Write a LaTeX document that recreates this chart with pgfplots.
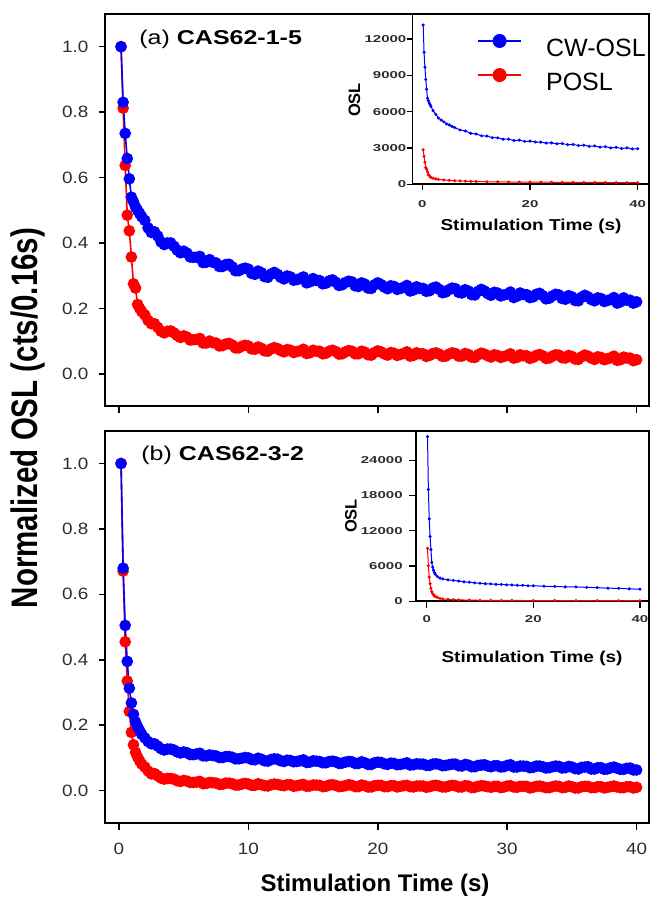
\documentclass[border=0pt]{standalone}
\usepackage{fontspec}
\setmainfont{Liberation Sans}
\newfontfamily\tickfont{Liberation Sans}[FakeStretch=1.15]
\newfontfamily\itickfont{Liberation Sans}[FakeStretch=1.5]
\newfontfamily\titlefont{Liberation Sans}[FakeStretch=1.25]
\newfontfamily\ilabfont{Liberation Sans}[FakeStretch=1.2]
\usepackage{pgfplots}
\pgfplotsset{compat=1.18}
\usepackage{pgfplotstable}
\definecolor{cwblue}{RGB}{0,0,255}
\definecolor{poslred}{RGB}{255,0,0}
\definecolor{tickgray}{RGB}{45,45,45}

\pgfplotstableread{
t y
0.16 1.000
0.32 0.830
0.48 0.735
0.64 0.658
0.80 0.596
0.96 0.540
1.12 0.526
1.28 0.510
1.44 0.500
1.60 0.490
1.76 0.480
2.0 .469
2.25 .446
2.5 .432
2.75 .434
3.0 .421
3.25 .403
3.5 .395
3.75 .400
4.0 .400
4.25 .390
4.5 .378
4.75 .370
5.0 .375
5.25 .369
5.5 .357
5.75 .356
6.0 .356
6.25 .359
6.5 .340
6.75 .341
7.0 .349
7.25 .341
7.5 .339
7.75 .328
8.0 .328
8.25 .334
8.5 .335
8.75 .327
9.0 .315
9.25 .315
9.5 .320
9.75 .323
10.0 .320
10.25 .307
10.5 .304
10.75 .314
11.0 .309
11.25 .297
11.5 .295
11.75 .305
12.0 .310
12.25 .304
12.5 .295
12.75 .290
13.0 .299
13.25 .296
13.5 .286
13.75 .288
14.0 .291
14.25 .296
14.5 .278
14.75 .281
15.0 .291
15.25 .285
15.5 .285
15.75 .275
16.0 .277
16.25 .284
16.5 .287
16.75 .280
17.0 .270
17.25 .272
17.5 .279
17.75 .283
18.0 .281
18.25 .269
18.5 .267
18.75 .278
19.0 .274
19.25 .262
19.5 .261
19.75 .272
20.0 .278
20.25 .273
20.5 .265
20.75 .260
21.0 .269
21.25 .267
21.5 .258
21.75 .261
22.0 .264
22.25 .270
22.5 .253
22.75 .256
23.0 .266
23.25 .261
23.5 .261
23.75 .252
24.0 .254
24.25 .262
24.5 .265
24.75 .258
25.0 .248
25.25 .250
25.5 .257
25.75 .262
26.0 .260
26.25 .249
26.5 .247
26.75 .257
27.0 .253
27.25 .242
27.5 .241
27.75 .252
28.0 .258
28.25 .253
28.5 .245
28.75 .240
29.0 .249
29.25 .247
29.5 .238
29.75 .241
30.0 .244
30.25 .250
30.5 .233
30.75 .237
31.0 .247
31.25 .242
31.5 .242
31.75 .233
32.0 .235
32.25 .243
32.5 .246
32.75 .239
33.0 .229
33.25 .231
33.5 .238
33.75 .243
34.0 .241
34.25 .230
34.5 .228
34.75 .239
35.0 .235
35.25 .224
35.5 .223
35.75 .234
36.0 .240
36.25 .235
36.5 .227
36.75 .223
37.0 .232
37.25 .230
37.5 .221
37.75 .224
38.0 .227
38.25 .233
38.5 .216
38.75 .220
39.0 .232
39.25 .225
39.5 .225
39.75 .216
40.0 .220
}\blueA

\pgfplotstableread{
t y
0.16 1.000
0.32 0.812
0.48 0.637
0.64 0.485
0.80 0.437
0.96 0.357
1.12 0.275
1.28 0.262
1.44 0.212
1.60 0.200
1.76 0.190
2.0 .180
2.25 .163
2.5 .153
2.75 .153
3.0 .142
3.25 .130
3.5 .125
3.75 .130
4.0 .131
4.25 .125
4.5 .117
4.75 .111
5.0 .116
5.25 .112
5.5 .103
5.75 .104
6.0 .105
6.25 .108
6.5 .094
6.75 .094
7.0 .100
7.25 .095
7.5 .094
7.75 .085
8.0 .086
8.25 .091
8.5 .093
8.75 .088
9.0 .079
9.25 .079
9.5 .084
9.75 .087
10.0 .085
10.25 .076
10.5 .075
10.75 .082
11.0 .078
11.25 .070
11.5 .069
11.75 .076
12.0 .080
12.25 .077
12.5 .071
12.75 .067
13.0 .074
13.25 .072
13.5 .065
13.75 .068
14.0 .070
14.25 .075
14.5 .062
14.75 .064
15.0 .072
15.25 .069
15.5 .069
15.75 .061
16.0 .063
16.25 .069
16.5 .072
16.75 .068
17.0 .060
17.25 .061
17.5 .067
17.75 .071
18.0 .069
18.25 .061
18.5 .061
18.75 .069
19.0 .066
19.25 .058
19.5 .057
19.75 .065
20.0 .070
20.25 .067
20.5 .061
20.75 .057
21.0 .065
21.25 .063
21.5 .056
21.75 .059
22.0 .062
22.25 .067
22.5 .054
22.75 .056
23.0 .064
23.25 .061
23.5 .061
23.75 .053
24.0 .056
24.25 .062
24.5 .064
24.75 .060
25.0 .053
25.25 .054
25.5 .060
25.75 .064
26.0 .062
26.25 .054
26.5 .054
26.75 .062
27.0 .059
27.25 .051
27.5 .050
27.75 .058
28.0 .063
28.25 .060
28.5 .055
28.75 .051
29.0 .058
29.25 .056
29.5 .050
29.75 .053
30.0 .056
30.25 .061
30.5 .048
30.75 .050
31.0 .058
31.25 .055
31.5 .055
31.75 .047
32.0 .050
32.25 .056
32.5 .059
32.75 .055
33.0 .047
33.25 .048
33.5 .054
33.75 .058
34.0 .057
34.25 .049
34.5 .048
34.75 .056
35.0 .053
35.25 .045
35.5 .044
35.75 .052
36.0 .057
36.25 .054
36.5 .048
36.75 .044
37.0 .052
37.25 .050
37.5 .043
37.75 .046
38.0 .049
38.25 .054
38.5 .041
38.75 .043
39.0 .051
39.25 .048
39.5 .048
39.75 .040
40.0 .043
}\redA

\pgfplotstableread{
t y
0.16 1.000
0.32 0.680
0.48 0.505
0.64 0.395
0.80 0.313
0.96 0.268
1.12 0.233
1.28 0.210
1.44 0.195
1.60 0.183
1.76 0.172
2.0 .161
2.25 .150
2.5 .143
2.75 .143
3.0 .136
3.25 .128
3.5 .124
3.75 .127
4.0 .127
4.25 .124
4.5 .118
4.75 .115
5.0 .118
5.25 .116
5.5 .110
5.75 .110
6.0 .112
6.25 .114
6.5 .106
6.75 .106
7.0 .109
7.25 .107
7.5 .106
7.75 .101
8.0 .101
8.25 .104
8.5 .104
8.75 .102
9.0 .097
9.25 .097
9.5 .099
9.75 .101
10.0 .100
10.25 .095
10.5 .094
10.75 .099
11.0 .096
11.25 .091
11.5 .090
11.75 .095
12.0 .097
12.25 .096
12.5 .091
12.75 .089
13.0 .093
13.25 .092
13.5 .088
13.75 .089
14.0 .091
14.25 .094
14.5 .086
14.75 .087
15.0 .091
15.25 .090
15.5 .089
15.75 .085
16.0 .085
16.25 .089
16.5 .090
16.75 .088
17.0 .083
17.25 .084
17.5 .087
17.75 .089
18.0 .088
18.25 .083
18.5 .083
18.75 .088
19.0 .085
19.25 .080
19.5 .080
19.75 .085
20.0 .087
20.25 .086
20.5 .082
20.75 .080
21.0 .084
21.25 .083
21.5 .079
21.75 .080
22.0 .082
22.25 .085
22.5 .078
22.75 .079
23.0 .082
23.25 .081
23.5 .081
23.75 .077
24.0 .077
24.25 .081
24.5 .082
24.75 .080
25.0 .076
25.25 .077
25.5 .079
25.75 .081
26.0 .081
26.25 .076
26.5 .075
26.75 .080
27.0 .078
27.25 .073
27.5 .073
27.75 .077
28.0 .078
28.25 .079
28.5 .075
28.75 .073
29.0 .076
29.25 .076
29.5 .072
29.75 .073
30.0 .077
30.25 .079
30.5 .072
30.75 .072
31.0 .075
31.25 .075
31.5 .074
31.75 .070
32.0 .071
32.25 .075
32.5 .075
32.75 .073
33.0 .069
33.25 .070
33.5 .073
33.75 .075
34.0 .074
34.25 .069
34.5 .070
34.75 .074
35.0 .072
35.25 .067
35.5 .066
35.75 .071
36.0 .072
36.25 .073
36.5 .066
36.75 .066
37.0 .070
37.25 .070
37.5 .065
37.75 .066
38.0 .070
38.25 .072
38.5 .068
38.75 .065
39.0 .065
39.25 .068
39.5 .069
39.75 .063
40.0 .063
}\blueB

\pgfplotstableread{
t y
0.16 1.000
0.32 0.671
0.48 0.455
0.64 0.335
0.80 0.242
0.96 0.178
1.12 0.140
1.28 0.117
1.44 0.102
1.60 0.091
1.76 0.081
2.0 .072
2.25 .060
2.5 .051
2.75 .052
3.0 .045
3.25 .038
3.5 .035
3.75 .037
4.0 .037
4.25 .035
4.5 .030
4.75 .028
5.0 .031
5.25 .029
5.5 .025
5.75 .025
6.0 .026
6.25 .028
6.5 .021
6.75 .022
7.0 .025
7.25 .024
7.5 .023
7.75 .019
8.0 .019
8.25 .023
8.5 .023
8.75 .021
9.0 .017
9.25 .017
9.5 .020
9.75 .022
10.0 .020
10.25 .016
10.5 .016
10.75 .021
11.0 .018
11.25 .015
11.5 .014
11.75 .018
12.0 .020
12.25 .019
12.5 .016
12.75 .015
13.0 .018
13.25 .018
13.5 .013
13.75 .015
14.0 .017
14.25 .019
14.5 .013
14.75 .014
15.0 .017
15.25 .017
15.5 .016
15.75 .012
16.0 .013
16.25 .017
16.5 .018
16.75 .016
17.0 .012
17.25 .013
17.5 .015
17.75 .018
18.0 .016
18.25 .012
18.5 .012
18.75 .017
19.0 .015
19.25 .011
19.5 .011
19.75 .015
20.0 .016
20.25 .016
20.5 .012
20.75 .012
21.0 .015
21.25 .015
21.5 .011
21.75 .013
22.0 .015
22.25 .016
22.5 .012
22.75 .011
23.0 .014
23.25 .014
23.5 .014
23.75 .010
24.0 .012
24.25 .015
24.5 .016
24.75 .014
25.0 .011
25.25 .011
25.5 .014
25.75 .016
26.0 .015
26.25 .011
26.5 .011
26.75 .015
27.0 .014
27.25 .009
27.5 .010
27.75 .013
28.0 .015
28.25 .014
28.5 .012
28.75 .010
29.0 .013
29.25 .013
29.5 .009
29.75 .011
30.0 .014
30.25 .015
30.5 .011
30.75 .010
31.0 .013
31.25 .013
31.5 .013
31.75 .008
32.0 .010
32.25 .013
32.5 .014
32.75 .012
33.0 .009
33.25 .009
33.5 .012
33.75 .014
34.0 .013
34.25 .009
34.5 .010
34.75 .014
35.0 .012
35.25 .008
35.5 .008
35.75 .012
36.0 .013
36.25 .013
36.5 .009
36.75 .009
37.0 .012
37.25 .012
37.5 .008
37.75 .010
38.0 .012
38.25 .014
38.5 .011
38.75 .009
39.0 .009
39.25 .012
39.5 .012
39.75 .008
40.0 .010
}\redB

\pgfplotstableread{
t y
0.16 13150
0.32 10900
0.48 9670
0.64 8650
0.80 7840
0.96 7100
1.12 6900
1.28 6710
1.44 6580
1.60 6440
2.0 6080
2.5 5780
3.0 5470
3.5 5300
4.0 5150
4.5 4980
5.0 4900
5.5 4780
6.0 4690
7.0 4480
8.0 4400
9.0 4200
10 4150
11 4000
12 3980
13 3850
14 3840
15 3720
16 3730
17 3610
18 3640
19 3540
20 3560
21 3490
22 3480
23 3400
24 3420
25 3340
26 3360
27 3270
28 3290
29 3200
30 3230
31 3130
32 3170
33 3060
34 3110
35 3000
36 3050
37 2950
38 3010
39 2920
40 2940
}\blueAi

\pgfplotstableread{
t y
0.16 2850
0.32 2310
0.48 1815
0.64 1380
0.80 1245
0.96 1020
1.12 785
1.28 745
1.44 615
1.60 570
2.0 500
2.5 445
3.0 400
4.0 355
5.0 320
6.0 295
7.0 275
8.0 255
9.0 240
10 228
12 210
14 197
16 190
18 183
20 180
22 174
24 168
26 163
28 160
30 157
32 151
34 148
36 143
38 137
40 131
}\redAi

\pgfplotstableread{
t y
0.16 28000
0.32 19000
0.48 14000
0.64 11000
0.80 8800
0.96 6600
1.12 5800
1.28 5300
1.44 4900
1.60 4600
2.0 4200
2.5 3950
3.0 3800
4.0 3650
5.0 3550
6.0 3440
7.0 3310
8.0 3250
9.0 3130
10 3070
11 2980
12 2960
13 2880
14 2870
15 2790
16 2780
17 2710
18 2710
19 2640
20 2640
22 2560
24 2530
26 2450
28 2440
30 2370
32 2320
34 2230
36 2200
38 2110
40 2060
}\blueBi

\pgfplotstableread{
t y
0.16 9000
0.32 6040
0.48 4100
0.64 3000
0.80 2200
0.96 1640
1.12 1300
1.28 1080
1.44 945
1.60 840
2.0 650
2.5 480
3.0 400
4.0 320
5.0 280
6.0 240
8 200
10 170
12 160
14 150
16 140
20 130
24 125
28 120
32 110
36 105
40 100
}\redBi

\pgfplotsset{
  mainax/.style={
    scale only axis, width=272pt, height=196.25pt,
    xmin=-1.08, xmax=40.96, ymin=-0.1, ymax=1.1,
    axis line style={line width=1pt},
    tick align=outside, tick pos=left, major tick length=3.2pt,
    every tick/.style={black, line width=0.8pt},
    xtick={0,10,20,30,40}, ytick={0,0.2,0.4,0.6,0.8,1.0},
    /pgf/number format/assume math mode=true,
    ticklabel style={font=\tickfont\fontsize{8.2}{9}\selectfont, text=tickgray},
    yticklabel style={/pgf/number format/fixed, /pgf/number format/fixed zerofill, /pgf/number format/precision=1, xshift=-1.6pt},
    xticklabel style={yshift=-3pt},
  },
  insetax/.style={
    scale only axis, axis x line*=bottom, axis y line*=left,
    axis line style={line width=0.8pt},
    tick align=outside, major tick length=2.8pt,
    every tick/.style={black, line width=0.6pt},
    xtick={0,20,40}, ymin=0, scaled y ticks=false,
    /pgf/number format/1000 sep={},
    /pgf/number format/assume math mode=true,
    ticklabel style={font=\itickfont\bfseries\fontsize{5}{6}\selectfont, text=tickgray, inner sep=0pt},
  },
  bigmark/.style={line width=0.8pt, mark=*, mark size=2.5pt, mark options={solid}},
  smallmark/.style={line width=0.5pt, mark=*, mark size=0.5pt, mark options={solid}},
}

\begin{document}
\begin{tikzpicture}
% ---------- panel (a) ----------
\begin{axis}[mainax, at={(52.5pt,245.25pt)}, anchor=south west,
    xticklabels={},
    reverse legend,
    legend style={draw=none, fill=none, at={(axis description cs:0.684,0.9465)}, anchor=north west,
      font=\fontsize{12.5}{14}\selectfont, inner sep=0pt, outer sep=0pt,
      row sep=6.5pt, column sep=12pt,
      nodes={inner sep=0pt, text height=9.1pt, text depth=0pt}},
    legend cell align=left,
    legend image code/.code={\draw[mark repeat=2,mark phase=2,#1,line width=1pt,mark size=3pt] plot coordinates {(0pt,3pt) (10.75pt,3pt) (21.5pt,3pt)};},
  ]
  \addplot[poslred, bigmark] table[x=t,y=y] {\redA};
  \addlegendentry{POSL}
  \addplot[cwblue, bigmark] table[x=t,y=y] {\blueA};
  \addlegendentry{CW-OSL}
\end{axis}
\begin{axis}[insetax, at={(206.15pt,356.35pt)}, anchor=south west,
    width=118.35pt, height=85.15pt, xmin=-1.86, xmax=42.1, ymax=14060,
    ytick={0,3000,6000,9000,12000},
    xticklabel style={yshift=-5.3pt},
  ]
  \addplot[poslred, smallmark] table[x=t,y=y] {\redAi};
  \addplot[cwblue, smallmark] table[x=t,y=y] {\blueAi};
\end{axis}
% ---------- panel (b) ----------
\begin{axis}[mainax, at={(52.5pt,36.85pt)}, anchor=south west]
  \addplot[poslred, bigmark] table[x=t,y=y] {\redB};
  \addplot[cwblue, bigmark] table[x=t,y=y] {\blueB};
\end{axis}
\begin{axis}[insetax, at={(208pt,147.85pt)}, anchor=south west,
    width=116.5pt, height=85.3pt, xmin=-2.0, xmax=41.7, ymax=29000,
    ytick={0,6000,12000,18000,24000},
    major tick length=3.5pt,
    yticklabel style={xshift=-3pt},
    xticklabel style={yshift=-3.5pt},
  ]
  \addplot[poslred, smallmark] table[x=t,y=y] {\redBi};
  \addplot[cwblue, smallmark] table[x=t,y=y] {\blueBi};
\end{axis}
% ---------- texts ----------
\node[anchor=base west, inner sep=0pt, font=\titlefont\fontsize{10}{12}\selectfont] at (69.5pt,426pt) {(a) \textbf{CAS62-1-5}};
\node[anchor=base west, inner sep=0pt, font=\titlefont\fontsize{10}{12}\selectfont] at (70.5pt,218pt) {(b) \textbf{CAS62-3-2}};
\node[rotate=90, anchor=base, inner sep=0pt, font=\bfseries\fontsize{14.75}{16}\selectfont] at (18.8pt,239.5pt) {\scalebox{1}[1.25]{Normalized OSL (cts/0.16s)}};
\node[anchor=base, inner sep=0pt, font=\bfseries\fontsize{12}{14}\selectfont] at (187.5pt,2.5pt) {Stimulation Time (s)};
\node[rotate=90, inner sep=0pt, font=\bfseries\fontsize{8.25}{9}\selectfont] at (177.25pt,398.5pt) {OSL};
\node[rotate=90, inner sep=0pt, font=\bfseries\fontsize{8.25}{9}\selectfont] at (175.5pt,190.5pt) {OSL};
\node[anchor=base, inner sep=0pt, font=\ilabfont\bfseries\fontsize{7.9}{9}\selectfont] at (265.5pt,333.15pt) {Stimulation Time (s)};
\node[anchor=base, inner sep=0pt, font=\ilabfont\bfseries\fontsize{7.9}{9}\selectfont] at (266pt,117.15pt) {Stimulation Time (s)};
\pgfresetboundingbox
\path[use as bounding box] (0,0) rectangle (325pt,448.5pt);
\end{tikzpicture}
\end{document}
